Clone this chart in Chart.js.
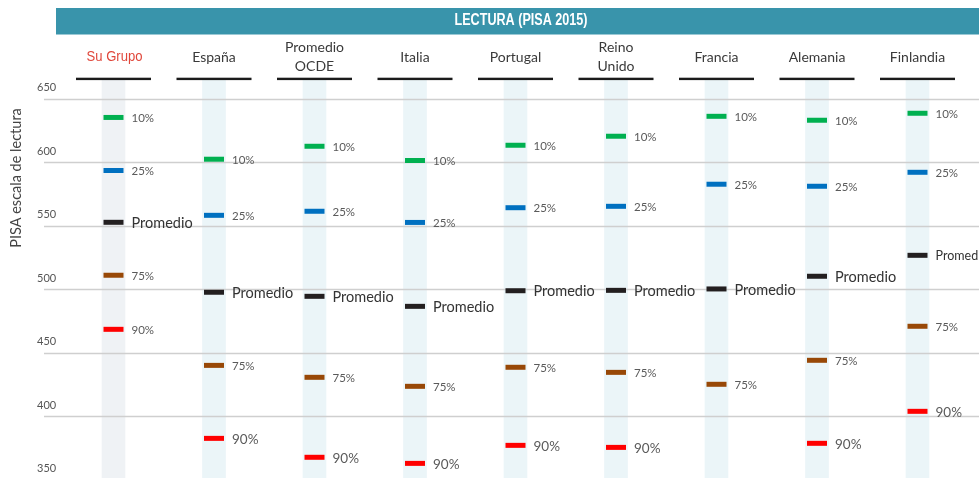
<!DOCTYPE html>
<html>
<head>
<meta charset="utf-8">
<script src="https://cdn.jsdelivr.net/npm/chart.js@4.4.1/dist/chart.umd.min.js"></script>
<style>
  html, body { margin: 0; padding: 0; background: #ffffff; overflow: hidden; }
  #wrap { position: relative; width: 979px; height: 480px; }
</style>
</head>
<body>
<div id="wrap"><canvas id="c"></canvas></div>
<script>
// ---- Data ----
const categories = ['Su Grupo', 'España', ['Promedio', 'OCDE'], 'Italia', 'Portugal', ['Reino', 'Unido'], 'Francia', 'Alemania', 'Finlandia'];
const seriesLabels = ['10%', '25%', 'Promedio', '75%', '90%'];
const p10  = [635.2, 602.3, 612.5, 601.3, 613.3, 620.4, 636.1, 633.0, 638.5];
const p25  = [593.4, 558.1, 561.3, 552.5, 564.1, 565.2, 582.6, 581.0, 592.0];
const mean = [552.6, 497.5, 494.3, 486.4, 498.7, 499.0, 500.1, 510.1, 526.6];
const p75  = [510.9, 439.9, 430.5, 423.4, 438.4, 434.4, 425.0, 443.9, 470.7];
const p90  = [468.3, 382.4, 367.5, 362.7, 376.9, 375.3, null, 378.5, 403.7];
const yTicks = [350, 400, 450, 500, 550, 600, 650];
const yMin = 350, yMax = 664.7;
const chartTitle = 'LECTURA (PISA 2015)';
const yTitle = 'PISA escala de lectura';

// ---- Styles ----
const seriesColors = ['#00B050', '#0070C0', '#231F20', '#984807', '#FF0000'];
const bandColors = categories.map((c, i) => i === 0 ? '#EFF2F5' : '#EBF5F8');

const seriesData = [p10, p25, mean, p75, p90];

const pointDatasets = seriesData.map((arr, k) => ({
  type: 'line',
  label: seriesLabels[k],
  data: arr,
  showLine: false,
  pointStyle: 'line',
  pointRadius: 10,
  pointHoverRadius: 10,
  pointBorderWidth: 5,
  pointHoverBorderWidth: 5,
  pointBorderColor: seriesColors[k],
  pointBackgroundColor: seriesColors[k],
  borderColor: seriesColors[k],
  clip: false,
  order: 1
}));

const bandDataset = {
  type: 'bar',
  label: 'band',
  data: categories.map(() => [yMin, yMax]),
  backgroundColor: bandColors,
  borderWidth: 0,
  barThickness: 23,
  order: 10
};

const FONT = 'Lato, "Open Sans", sans-serif';

const gridPlugin = {
  id: 'gridPlugin',
  afterDatasetDraw(chart, args) {
    if (args.index !== 0) return;
    const ctx = chart.ctx, y = chart.scales.y;
    ctx.save();
    ctx.strokeStyle = '#CFCFCF';
    ctx.lineWidth = 1.6;
    yTicks.forEach(t => {
      const py = Math.round(y.getPixelForValue(t)) + 0.5;
      ctx.beginPath();
      ctx.moveTo(44, py);
      ctx.lineTo(979, py);
      ctx.stroke();
    });
    ctx.restore();
  }
};

const decorPlugin = {
  id: 'decorPlugin',
  afterDatasetsDraw(chart) {
    const ctx = chart.ctx, x = chart.scales.x, y = chart.scales.y;
    ctx.save();
    // banner
    ctx.fillStyle = '#3994AB';
    ctx.fillRect(56, 8, 923, 26.5);
    ctx.fillStyle = '#FFFFFF';
    ctx.font = 'bold 16px "Liberation Sans", Arial, sans-serif';
    ctx.textBaseline = 'middle';
    ctx.textAlign = 'center';
    let tw = ctx.measureText(chartTitle).width;
    ctx.save();
    ctx.translate(521, 21);
    ctx.scale(133 / tw, 1);
    ctx.fillText(chartTitle, 0, 0);
    ctx.restore();

    // category headers
    categories.forEach((cat, i) => {
      const cx = x.getPixelForValue(i);
      if (i === 0) {
        ctx.fillStyle = '#E0473B';
        ctx.font = '15px "Liberation Sans", Arial, sans-serif';
        const w = ctx.measureText(cat).width;
        ctx.save();
        ctx.translate(cx + 1, 57);
        ctx.scale(56 / w, 1);
        ctx.fillText(cat, 0, 0);
        ctx.restore();
      } else {
        ctx.fillStyle = '#3A3A3A';
        ctx.font = '14px ' + FONT;
        if (Array.isArray(cat)) {
          ctx.fillText(cat[0], cx, 47);
          ctx.fillText(cat[1], cx, 66.5);
        } else {
          ctx.fillText(cat, cx, 57);
        }
      }
      ctx.fillStyle = '#1B1B1B';
      ctx.fillRect(cx - 37.5, 77.7, 75, 2.4);
    });

    // y tick labels
    ctx.fillStyle = '#555555';
    ctx.font = '11px ' + FONT;
    ctx.textAlign = 'left';
    yTicks.forEach(t => {
      ctx.fillText(String(t), 37, y.getPixelForValue(t) - 11);
    });

    // y title
    ctx.save();
    ctx.translate(16.5, 178);
    ctx.rotate(-Math.PI / 2);
    ctx.textAlign = 'center';
    ctx.fillStyle = '#444444';
    ctx.font = '14.5px ' + FONT;
    ctx.fillText(yTitle, 0, 0);
    ctx.restore();

    // marker labels
    ctx.textAlign = 'left';
    ctx.textBaseline = 'middle';
    seriesLabels.forEach((lab, k) => {
      const meta = chart.getDatasetMeta(k + 1);
      meta.data.forEach((pt, i) => {
        const v = seriesData[k][i];
        if (v === null || v === undefined) return;
        let size = 11.5, color = '#5A5A5A';
        if (k === 2) { size = (i === 8) ? 12.5 : 14.5; color = '#333333'; }
        if (k === 4 && i !== 0) size = 13.5;
        ctx.font = size + 'px ' + FONT;
        ctx.fillStyle = color;
        ctx.fillText(lab, pt.x + 18, pt.y + 1);
      });
    });
    ctx.restore();
  }
};

new Chart(document.getElementById('c'), {
  type: 'line',
  data: {
    labels: categories.map(c => Array.isArray(c) ? c.join(' ') : c),
    datasets: [bandDataset, ...pointDatasets]
  },
  options: {
    responsive: true,
    maintainAspectRatio: false,
    animation: false,
    devicePixelRatio: 1,
    events: [],
    layout: { autoPadding: false, padding: { top: 80, bottom: 0.5, left: 63.25, right: 11.25 } },
    plugins: {
      legend: { display: false },
      title: { display: false },
      tooltip: { enabled: false }
    },
    scales: {
      x: { type: 'category', offset: true, display: false, grid: { display: false } },
      y: { type: 'linear', min: yMin, max: yMax, display: false, grid: { display: false } }
    }
  },
  plugins: [gridPlugin, decorPlugin]
});
</script>
</body>
</html>
